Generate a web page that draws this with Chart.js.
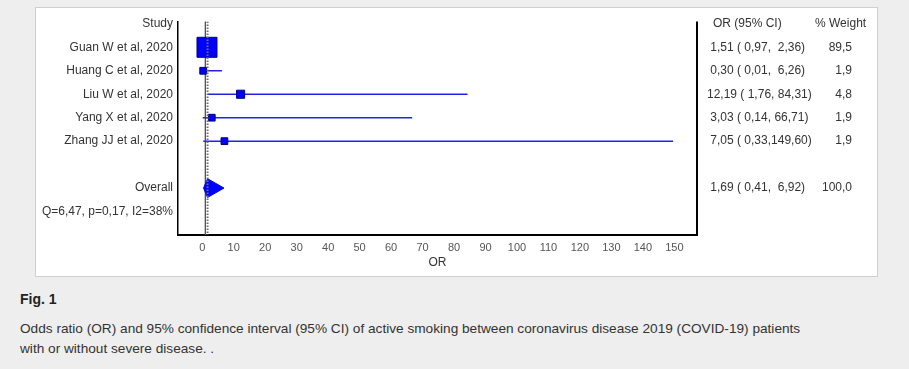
<!DOCTYPE html>
<html>
<head>
<meta charset="utf-8">
<script src="https://cdn.jsdelivr.net/npm/chart.js@4"></script>
<style>
  body { margin: 0; width: 909px; height: 369px; overflow: hidden; position: relative;
         background: #eeeeee; font-family: "Liberation Sans", Arial, sans-serif; color: #333; }
  #panel { position: absolute; left: 35px; top: 7px; width: 841px; height: 268px;
           background: #fff; border: 1px solid #cfcfcf; }
  #forest { position: absolute; left: 0; top: 0; }
  #caption { position: absolute; left: 20px; top: 289px; }
  #caption h3 { margin: 0; font-size: 14px; line-height: 20px; color: #222; }
  #caption p { margin: 10px 0 0; font-size: 13.65px; line-height: 20px; color: #333; }
</style>
</head>
<body>
<div id="panel"></div>
<canvas id="forest" width="909" height="280"></canvas>
<div id="caption">
  <h3>Fig. 1</h3>
  <p>Odds ratio (OR) and 95% confidence interval (95% CI) of active smoking between coronavirus disease 2019 (COVID-19) patients<br>with or without severe disease. .</p>
</div>
<script>
// Studies and their odds ratios
var studies = ["Guan W et al, 2020", "Huang C et al, 2020", "Liu W et al, 2020", "Yang X et al, 2020", "Zhang JJ et al, 2020"];
var oddsRatios = [1.51, 0.30, 12.19, 3.03, 7.05];
var ciLower = [0.97, 0.01, 1.76, 0.14, 0.33];
var ciUpper = [2.36, 6.26, 84.31, 66.71, 149.60];
var weights = [89.5, 1.9, 4.8, 1.9, 1.9];

// Pooled result
var overallOR = 1.69;
var overallLower = 0.41;
var overallUpper = 6.92;
var overallWeight = 100.0;
var heterogeneity = "Q=6,47, p=0,17, I2=38%";

// x axis
var xMin = -7.7;
var xMax = 157.2;
var xStep = 10;

// Row layout: header, studies, blank, overall, heterogeneity
var overallRow = studies.length + 2;
var rowLabels = ["Study"].concat(studies, ["", "Overall", heterogeneity, ""]);
var lastRow = rowLabels.length - 1;

function fmt(v, width) {
  return v.toFixed(2).replace(".", ",").padStart(width);
}
function ciText(or, lo, hi) {
  return fmt(or, 5) + " (" + fmt(lo, 5) + "," + fmt(hi, 6) + ")";
}
// square side grows with the study weight
function markerRadius(w) {
  var side = 4.5 + 15.5 * Math.sqrt(w / 89.5);
  return side / Math.SQRT2;
}

var BLUE = "#0000ff";
var LINE_BLUE = "#2323e6";

var datasets = [];

// dotted line at the pooled OR (on top)
datasets.push({
  type: "line",
  data: [{ x: overallOR, y: -0.1 }, { x: overallOR, y: lastRow }],
  borderColor: "#707070",
  borderWidth: 2,
  borderDash: [1.5, 1.5],
  pointRadius: 0
});

// study squares
datasets.push({
  type: "scatter",
  data: studies.map(function (s, i) { return { x: oddsRatios[i], y: i + 1 }; }),
  pointStyle: "rect",
  pointRadius: weights.map(markerRadius),
  backgroundColor: BLUE,
  borderColor: "#00007a",
  borderWidth: 1
});

// confidence intervals
for (let i = 0; i < studies.length; i++) {
  datasets.push({
    type: "line",
    data: [{ x: ciLower[i], y: i + 1 }, { x: ciUpper[i], y: i + 1 }],
    borderColor: LINE_BLUE,
    borderWidth: 1.5,
    pointRadius: 0
  });
}

// pooled diamond
var halfH = 0.4;
datasets.push({
  type: "line",
  data: [
    { x: overallLower, y: overallRow },
    { x: overallOR, y: overallRow - halfH },
    { x: overallUpper, y: overallRow },
    { x: overallOR, y: overallRow + halfH },
    { x: overallLower, y: overallRow }
  ],
  fill: "shape",
  backgroundColor: BLUE,
  borderColor: BLUE,
  borderWidth: 1,
  pointRadius: 0,
  tension: 0
});

// line of no effect (OR = 1)
datasets.push({
  type: "line",
  data: [{ x: 1, y: -0.1 }, { x: 1, y: lastRow }],
  borderColor: "#555",
  borderWidth: 1,
  pointRadius: 0
});

// right frame line and the OR / weight columns
var forestText = {
  id: "forestText",
  afterDraw: function (chart) {
    var ctx = chart.ctx;
    var area = chart.chartArea;
    var y = chart.scales.y;
    ctx.save();
    ctx.strokeStyle = "#000";
    ctx.lineWidth = 2;
    ctx.beginPath();
    ctx.moveTo(area.right, area.top);
    ctx.lineTo(area.right, area.bottom);
    ctx.stroke();

    ctx.font = '12px "Liberation Sans", Arial, sans-serif';
    ctx.fillStyle = "#333";
    ctx.textBaseline = "middle";

    var colOR = area.right + 10;
    var colW = area.right + 155;

    ctx.textAlign = "left";
    ctx.fillText("OR (95% CI)", area.right + 16, y.getPixelForValue(0));
    ctx.fillText("% Weight", area.right + 118, y.getPixelForValue(0));

    for (let i = 0; i < studies.length; i++) {
      var py = y.getPixelForValue(i + 1);
      ctx.textAlign = "left";
      ctx.fillText(ciText(oddsRatios[i], ciLower[i], ciUpper[i]), colOR, py);
      ctx.textAlign = "right";
      ctx.fillText(weights[i].toFixed(1).replace(".", ","), colW, py);
    }
    var oy = y.getPixelForValue(overallRow);
    ctx.textAlign = "left";
    ctx.fillText(ciText(overallOR, overallLower, overallUpper), colOR, oy);
    ctx.textAlign = "right";
    ctx.fillText(overallWeight.toFixed(1).replace(".", ","), colW, oy);
    ctx.restore();
  }
};

new Chart(document.getElementById("forest"), {
  type: "scatter",
  data: { datasets: datasets },
  options: {
    responsive: false,
    animation: false,
    layout: { padding: { left: 40, right: 212, top: 21.5, bottom: 0 } },
    plugins: { legend: { display: false }, tooltip: { enabled: false } },
    scales: {
      x: {
        type: "linear",
        min: xMin,
        max: xMax,
        grid: { display: false, drawTicks: false },
        border: { display: true, color: "#000", width: 2 },
        ticks: {
          stepSize: xStep,
          includeBounds: false,
          maxTicksLimit: 30,
          autoSkip: false,
          maxRotation: 0,
          padding: 6,
          color: "#555",
          font: { family: '"Liberation Sans", Arial, sans-serif', size: 11 }
        },
        title: {
          display: true,
          text: "OR",
          color: "#333",
          font: { family: '"Liberation Sans", Arial, sans-serif', size: 12 },
          padding: { top: 0, bottom: 10 }
        },
        afterFit: function (s) { s.height = 45; }
      },
      y: {
        type: "linear",
        reverse: true,
        min: -0.1,
        max: lastRow,
        grid: { display: false, drawTicks: false },
        border: { display: true, color: "#000", width: 1.5 },
        ticks: {
          stepSize: 1,
          includeBounds: false,
          autoSkip: false,
          padding: 5,
          color: "#333",
          font: { family: '"Liberation Sans", Arial, sans-serif', size: 12 },
          callback: function (v) { return rowLabels[v] || ""; }
        },
        afterFit: function (s) { s.width = 138; }
      }
    }
  },
  plugins: [forestText]
});
</script>
</body>
</html>
